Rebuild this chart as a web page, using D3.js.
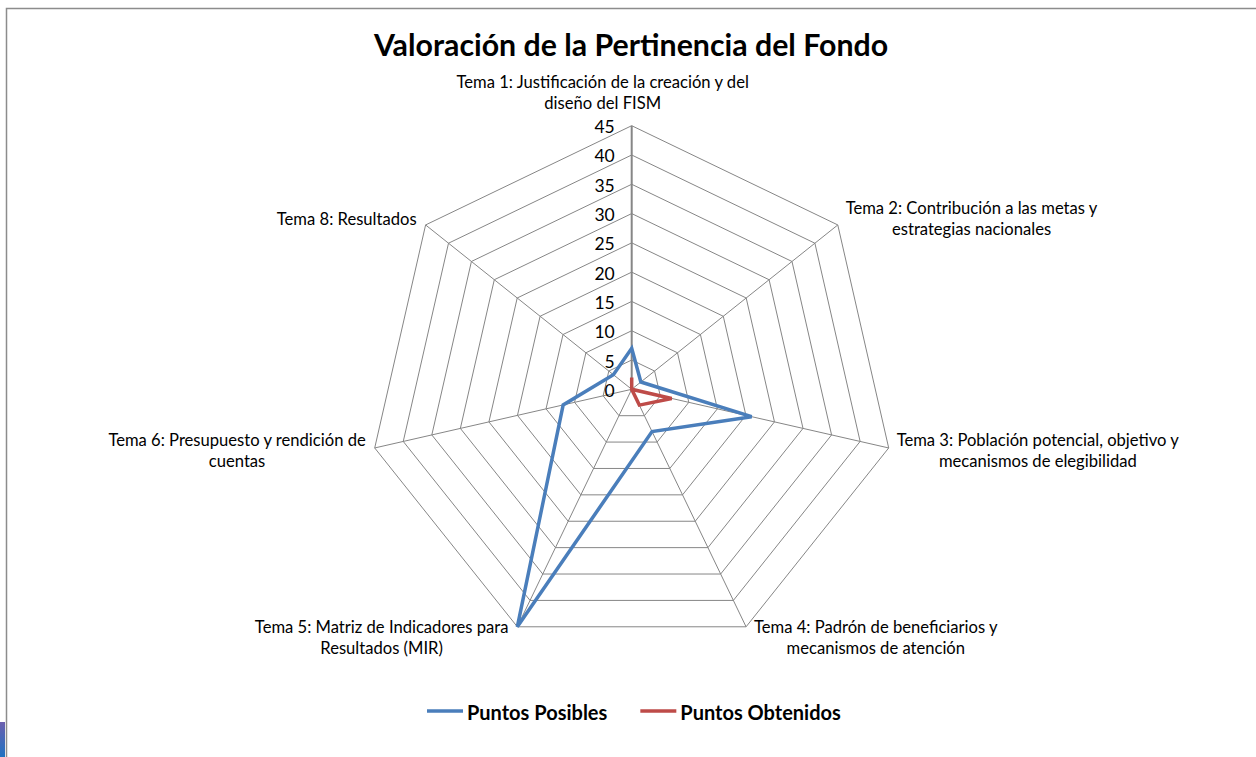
<!DOCTYPE html>
<html>
<head>
<meta charset="utf-8">
<script src="https://cdn.jsdelivr.net/npm/d3@7/dist/d3.min.js"></script>
<style>
  html, body { margin: 0; padding: 0; background: #fff; }
  svg { display: block; font-family: Lato, "Open Sans", sans-serif; }
</style>
</head>
<body>
<svg id="chart" width="1256" height="757"></svg>
<script>
// data
var categories = ["Tema 1", "Tema 2", "Tema 3", "Tema 4", "Tema 5", "Tema 6", "Tema 8"];
var categoryLines = [
  ["Tema 1: Justificación de la creación y del", "diseño del FISM"],
  ["Tema 2: Contribución a las metas y", "estrategias nacionales"],
  ["Tema 3: Población potencial, objetivo y", "mecanismos de elegibilidad"],
  ["Tema 4: Padrón de beneficiarios y", "mecanismos de atención"],
  ["Tema 5: Matriz de Indicadores para", "Resultados (MIR)"],
  ["Tema 6: Presupuesto y rendición de", "cuentas"],
  ["Tema 8: Resultados"]
];
var puntosPosibles = [7, 2, 21, 8, 45, 12, 4];
var puntosObtenidos = [2, 0, 7, 3, 0, 0, 0];
var tickValues = [0, 5, 10, 15, 20, 25, 30, 35, 40, 45];
var seriesNames = ["Puntos Posibles", "Puntos Obtenidos"];
var seriesColors = ["#4a7ebb", "#be4b48"];

var svg = d3.select("#chart");
var cx = 631.7, cy = 389.3;

// frame of the chart area (runs off the right and bottom edges)
svg.append("rect")
  .attr("x", 6.5).attr("y", 8.5)
  .attr("width", 1300).attr("height", 800)
  .attr("fill", "none").attr("stroke", "#8c8c8c").attr("stroke-width", 1.5);

// small clipped blue thing at the bottom-left corner
var grad = svg.append("defs").append("linearGradient")
  .attr("id", "blueCorner").attr("x1", 0).attr("y1", 0).attr("x2", 0).attr("y2", 1);
grad.append("stop").attr("offset", "0%").attr("stop-color", "#6c5fae");
grad.append("stop").attr("offset", "100%").attr("stop-color", "#1f72c2");
svg.append("rect").attr("x", 0).attr("y", 722).attr("width", 5).attr("height", 35)
  .attr("fill", "url(#blueCorner)");

// title
svg.append("text")
  .attr("x", 631).attr("y", 44)
  .attr("text-anchor", "middle").attr("dominant-baseline", "central")
  .attr("font-size", 30.3).attr("font-weight", "bold").attr("fill", "#000")
  .text("Valoración de la Pertinencia del Fondo");

var r = d3.scaleLinear().domain([0, 45]).range([0, 263.6]);
var angle = d3.scalePoint()
  .domain(categories)
  .range([0, 2 * Math.PI * (categories.length - 1) / categories.length]);

function pt(cat, v) {
  var a = angle(cat);
  return [cx + r(v) * Math.sin(a), cy - r(v) * Math.cos(a)];
}

var g = svg.append("g");

// rings
tickValues.filter(function (t) { return t > 0; }).forEach(function (t) {
  g.append("path")
    .attr("d", d3.line()(categories.map(function (c) { return pt(c, t); })) + "Z")
    .attr("fill", "none").attr("stroke", "#868686").attr("stroke-width", 1);
});

// spokes
categories.forEach(function (c, i) {
  var p = pt(c, 45);
  g.append("line")
    .attr("x1", cx).attr("y1", cy).attr("x2", p[0]).attr("y2", p[1])
    .attr("stroke", "#868686").attr("stroke-width", i === 0 ? 2 : 1);
});

// value axis labels
g.selectAll(".tick").data(tickValues).enter().append("text")
  .attr("x", cx - 17).attr("y", function (t) { return cy - r(t) + 1; })
  .attr("text-anchor", "end").attr("dominant-baseline", "central")
  .attr("font-size", 17.5).attr("fill", "#000")
  .text(function (t) { return t; });

// series
var lineGen = d3.lineRadial()
  .angle(function (d) { return angle(d.c); })
  .radius(function (d) { return r(d.v); })
  .curve(d3.curveLinearClosed);

[puntosPosibles, puntosObtenidos].forEach(function (vals, k) {
  g.append("path")
    .attr("transform", "translate(" + cx + "," + cy + ")")
    .attr("d", lineGen(categories.map(function (c, i) { return { c: c, v: vals[i] }; })))
    .attr("fill", "none").attr("stroke", seriesColors[k])
    .attr("stroke-width", 3.5).attr("stroke-linejoin", "miter");
});

// category labels
var labelSize = 16.6, lineH = 21;
categories.forEach(function (c, i) {
  var p = pt(c, 45);
  var lines = categoryLines[i];
  var t = svg.append("text").attr("font-size", labelSize).attr("fill", "#000")
    .attr("text-anchor", "middle").attr("dominant-baseline", "central");
  lines.forEach(function (s) { t.append("tspan").text(s); });
  var w = d3.max(t.selectAll("tspan").nodes(), function (n) { return n.getComputedTextLength(); });
  var sinA = Math.sin(angle(c));
  var x, yMid;
  if (Math.abs(sinA) < 0.01) {
    x = p[0] - 29;
    yMid = p[1] - 23 - (lines.length - 1) * lineH / 2;
  } else if (sinA > 0) {
    x = p[0] + 8 + w / 2;
    yMid = p[1] + (i === 1 ? -6 : (i === 2 ? 3 : 11));
  } else {
    x = p[0] - 9 - w / 2;
    yMid = p[1] + (i === 6 ? -6 : (i === 5 ? 3 : 11));
  }
  t.selectAll("tspan")
    .attr("x", x)
    .attr("y", function (d, j) { return yMid + (j - (lines.length - 1) / 2) * lineH; });
});

// legend
var legend = svg.append("g");
var lx = 427;
seriesNames.forEach(function (name, k) {
  legend.append("line")
    .attr("x1", lx).attr("x2", lx + 36).attr("y1", 711).attr("y2", 711)
    .attr("stroke", seriesColors[k]).attr("stroke-width", 3.5);
  var t = legend.append("text")
    .attr("x", lx + 40).attr("y", 712)
    .attr("dominant-baseline", "central")
    .attr("font-size", 20).attr("font-weight", "bold").attr("fill", "#000")
    .text(name);
  lx += 40 + t.node().getComputedTextLength() + 33;
});
</script>
</body>
</html>
